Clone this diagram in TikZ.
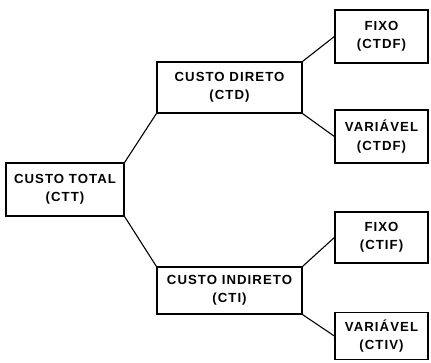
\documentclass[tikz,border=0pt]{standalone}
\usepackage{fontspec}
\setmainfont{Liberation Sans}[LetterSpace=8]
\begin{document}
\begin{tikzpicture}[x=1pt,y=-1pt,
  box/.style={draw, line width=1.3pt, inner sep=0pt, align=center,
    font=\fontsize{13.2}{18.5}\selectfont\bfseries},
  midbox/.style={box, minimum width=145pt},
  leaf/.style={box, minimum width=93pt},
  link/.style={line width=1.1pt}]
\useasboundingbox (0,0) rectangle (431,362);
\node[box, minimum width=118pt, minimum height=53pt] (ctt) at (65,189.5) {CUSTO TOTAL\\(CTT)};
\node[midbox, minimum height=51pt] (ctd) at (229.5,87.5) {CUSTO DIRETO\\(CTD)};
\node[midbox, minimum height=47pt] (cti) at (229.5,290.5) {CUSTO INDIRETO\\(CTI)};
\node[leaf, minimum height=53pt] (l1) at (381.5,36.5) {FIXO\\(CTDF)};
\node[leaf, minimum height=53pt] (l2) at (381.5,136.5) {VARIÁVEL\\(CTDF)};
\node[leaf, minimum height=51pt] (l3) at (381.5,237.5) {FIXO\\(CTIF)};
\node[leaf, minimum height=47pt] (l4) at (381.5,336) {VARIÁVEL\\(CTIV)};
\draw[link] (ctt.north east) -- (ctd.south west);
\draw[link] (ctt.south east) -- (cti.north west);
\draw[link] (ctd.north east) -- (l1.west);
\draw[link] (ctd.south east) -- (l2.west);
\draw[link] (cti.north east) -- (l3.west);
\draw[link] (cti.south east) -- (l4.west);
\end{tikzpicture}
\end{document}
